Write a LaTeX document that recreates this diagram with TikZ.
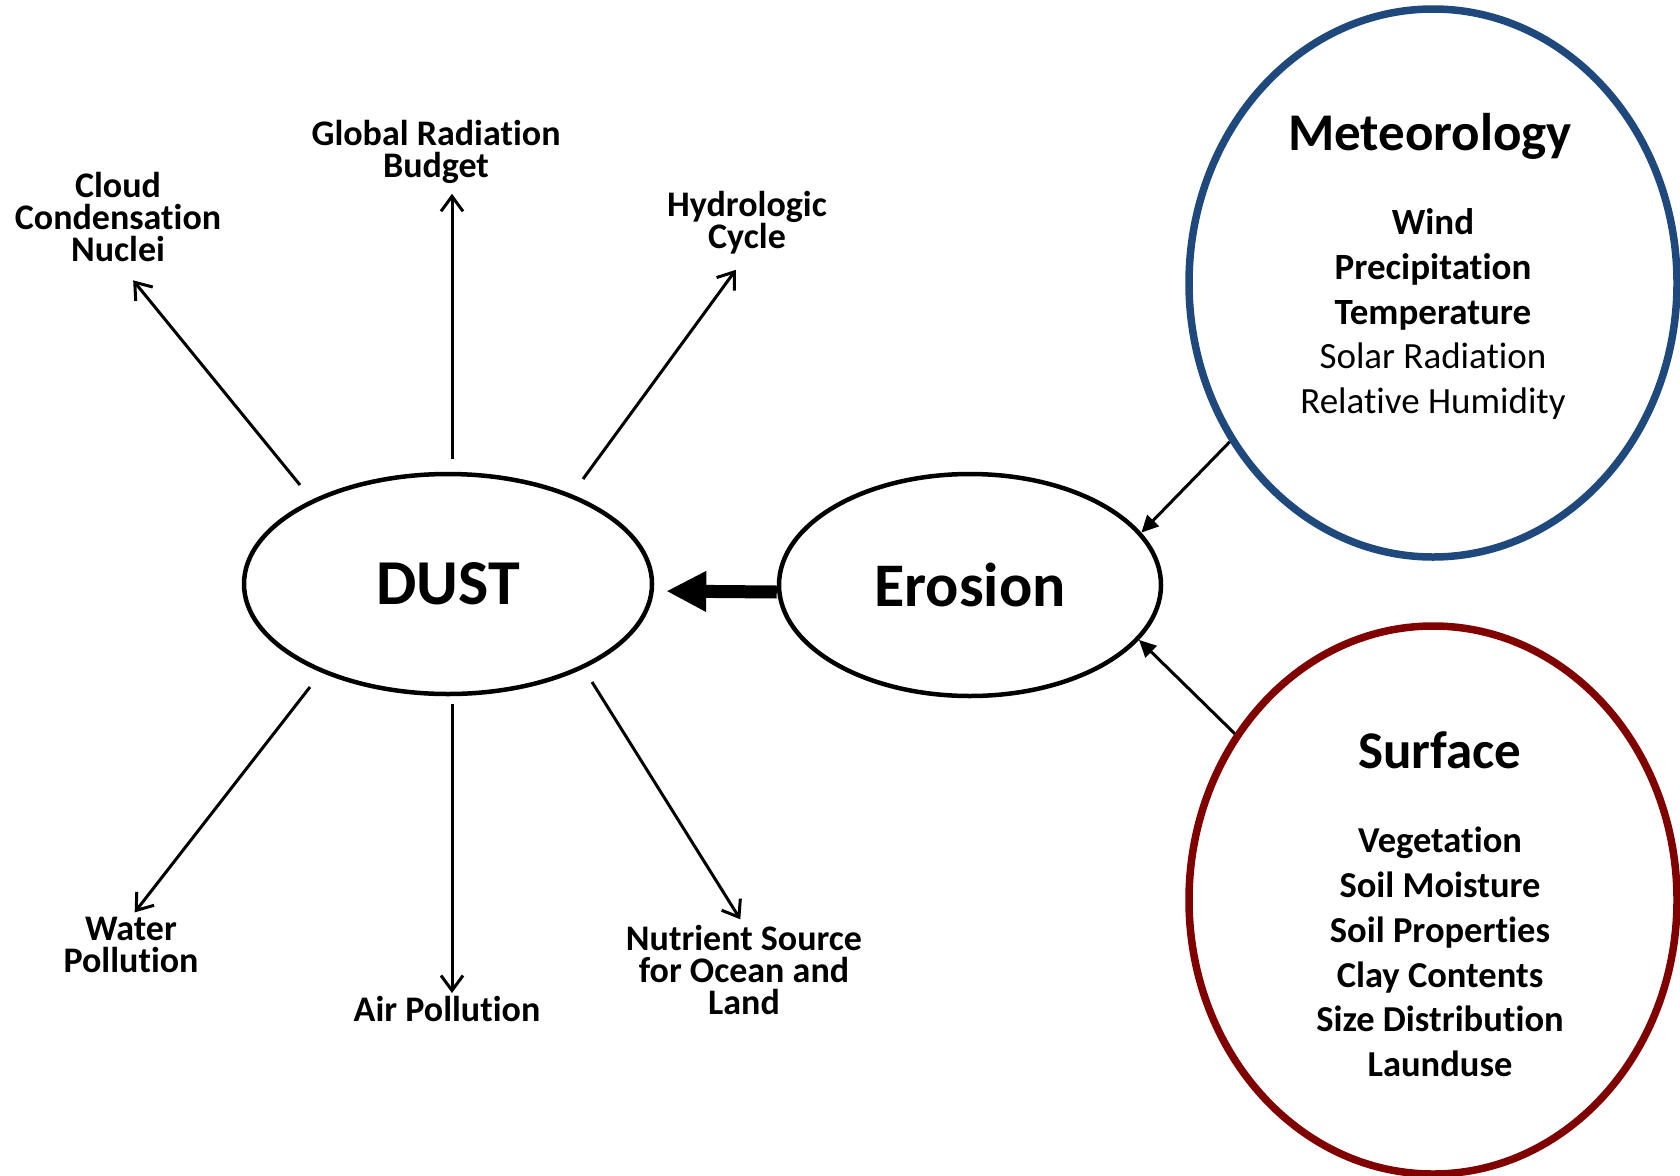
\documentclass[tikz,border=0pt]{standalone}
\usepackage{fontspec}
\setmainfont{Carlito}[Ligatures=NoCommon, Contextuals=NoAlternate]
\usetikzlibrary{positioning, arrows.meta, shapes.geometric}
\definecolor{metblue}{HTML}{1F497D}
\definecolor{surfred}{HTML}{800000}

\begin{document}
\begin{tikzpicture}[x=1pt, y=-1pt,
  oval/.style={draw, ellipse, line width=4.5pt, inner sep=0pt},
  bigcirc/.style={draw, ellipse, line width=7.5pt, minimum width=488pt, minimum height=548pt},
  lbl/.style={align=center, inner sep=0pt, font=\fontsize{36}{31.8}\selectfont\bfseries},
  lst/.style={align=center, inner sep=0pt, font=\fontsize{37}{44.7}\selectfont},
  ttl/.style={inner sep=0pt, font=\fontsize{53}{60}\selectfont\bfseries},
  arr/.style={line width=3pt, -{Straight Barb[length=15pt, width=22pt]}},
  inarr/.style={line width=3pt, -{Triangle[length=17pt, width=16pt]}},
  fatarr/.style={line width=13pt, -{Triangle[length=40pt, width=38pt]}}]
\useasboundingbox (0,0) rectangle (1680,1175);

\node[oval, minimum width=408pt, minimum height=220pt, font=\fontsize{64}{64}\selectfont\bfseries] (dust) at (448,584) {DUST};
\node[oval, minimum width=382pt, minimum height=222pt, font=\fontsize{62}{62}\selectfont\bfseries] (erosion) at (970,585) {Erosion};
\node[bigcirc, draw=metblue] (met) at (1433,283) {};
\node[bigcirc, draw=surfred] (surf) at (1433,900) {};

\node[ttl] (metttl) at (1430,136) {Meteorology};
\node[lst] (metlst) at (1433,314) {\textbf{Wind}\\ \textbf{Precipitation}\\ \textbf{Temperature}\\ Solar Radiation\\ Relative Humidity};
\node[ttl] (surfttl) at (1440,750) {Surface};
\node[lst, font=\fontsize{36.5}{44.7}\selectfont\bfseries] (surflst) at (1440,952) {Vegetation\\ Soil Moisture\\ Soil Properties\\ Clay Contents\\ Size Distribution\\ Launduse};

\node[lbl] (cloud) at (118,217) {Cloud\\ Condensation\\ Nuclei};
\node[lbl] (global) at (436,152) {Global Radiation\\ Budget};
\node[lbl] (hydro) at (747,223) {Hydrologic\\ Cycle};
\node[lbl] (water) at (131,945) {Water\\ Pollution};
\node[lbl] (air) at (447,1009) {Air Pollution};
\node[lbl] (nutrient) at (744,970) {Nutrient Source\\ for Ocean and\\ Land};

\coordinate (c1) at (300,485);
\coordinate (c2) at (452,459);
\coordinate (c3) at (583,479);
\coordinate (c4) at (310,687);
\coordinate (c5) at (452,704);
\coordinate (c6) at (592,682);

\draw[arr, shorten >=24pt] (c1) -- (cloud.south);
\draw[arr, shorten >=10pt] (c2) -- (c2 |- global.south);
\draw[arr, shorten >=19pt] (c3) -- (hydro.south);
\draw[arr, shorten >=6pt] (c4) -- (water.north);
\draw[arr, shorten >=3pt] (c5) -- (c5 |- air.north);
\draw[arr, shorten >=7pt] (c6) -- (nutrient.north);

\draw[fatarr, shorten >=12pt] ([yshift=-7pt]erosion.west) -- ([yshift=-7pt]dust.east);
\draw[inarr] (met.218.5) -- (erosion.17.9);
\draw[inarr] (surf.140.7) -- (erosion.-18.8);
\end{tikzpicture}
\end{document}
